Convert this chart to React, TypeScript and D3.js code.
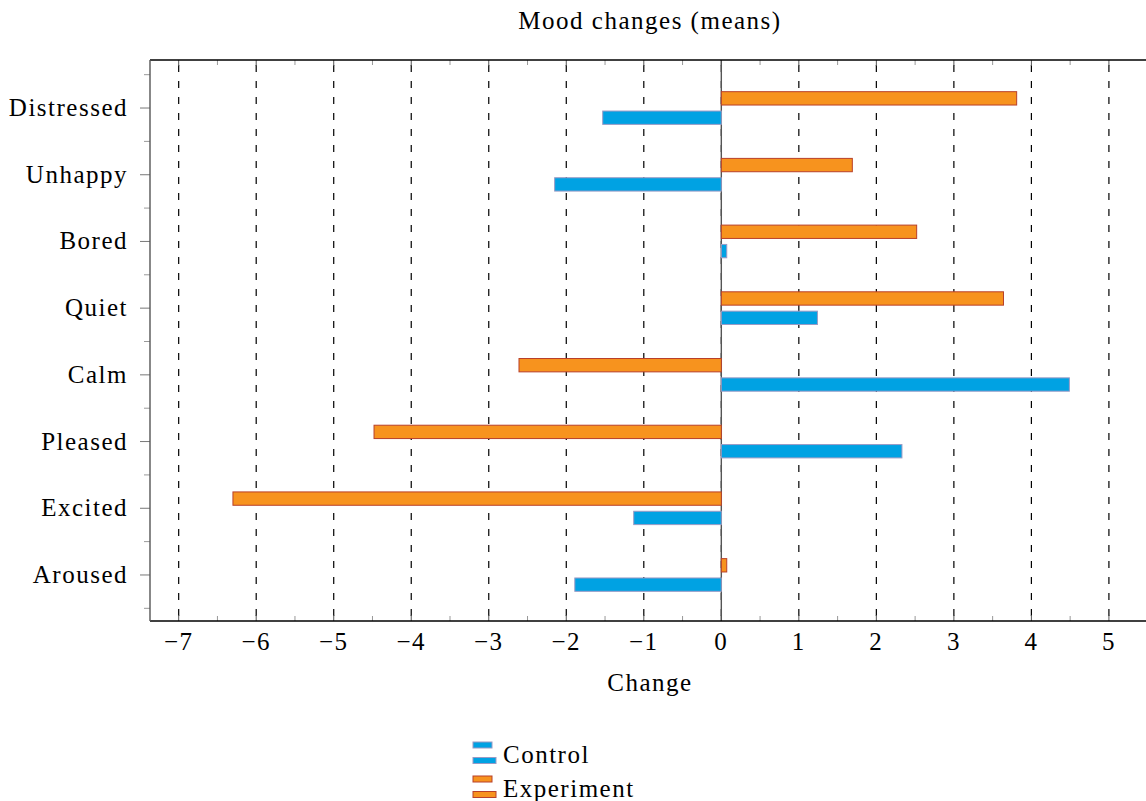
import * as d3 from 'd3';

const W = 1146;
const H = 801;
const MARGIN = { top: 60, right: -4, bottom: 180, left: 150 };
const FONT = '"Liberation Serif", "Times New Roman", serif';
const FS = 25;
const LS = 1.5;

const categories = ['Distressed', 'Unhappy', 'Bored', 'Quiet', 'Calm', 'Pleased', 'Excited', 'Aroused'];
const control = [-1.53, -2.15, 0.07, 1.24, 4.49, 2.33, -1.13, -1.89];
const experiment = [3.81, 1.69, 2.52, 3.64, -2.61, -4.48, -6.3, 0.07];
const xTicks = [-7, -6, -5, -4, -3, -2, -1, 0, 1, 2, 3, 4, 5];
const xDomain = [-7.37, 5.53];
const yDomain = [-0.72, 7.69];

const series = [
  { name: 'Experiment', values: experiment, fill: '#f7931e', stroke: '#b8402a', offset: -1 },
  { name: 'Control', values: control, fill: '#00a2e3', stroke: '#9a9ac4', offset: 1 },
];

const fmt = (v: number) => (v < 0 ? '\u2212' + Math.abs(v) : String(v));

export default function App() {
  const x0 = MARGIN.left;
  const x1 = W - MARGIN.right;
  const y0 = MARGIN.top;
  const y1 = H - MARGIN.bottom;

  const xScale = d3.scaleLinear().domain(xDomain).range([x0, x1]);
  const yScale = d3.scaleLinear().domain(yDomain).range([y0, y1]);
  const step = yScale(1) - yScale(0);
  const barH = step * 0.2;
  const barOff = step * 0.145;

  const minorX = d3.range(xTicks[0] - 0.5, xTicks[xTicks.length - 1] + 1, 1).filter((v) => v > xDomain[0] && v < xDomain[1]);
  const minorY = d3.range(-0.5, categories.length, 1).filter((v) => v > yDomain[0] && v < yDomain[1]);

  const legendX = 473;
  const legendRows = [
    { s: series[1], y: 742 },
    { s: series[0], y: 776 },
  ];

  return (
    <svg width={W} height={H} style={{ position: 'absolute', left: 0, top: 0, fontFamily: FONT }}>
      <rect x={0} y={0} width={W} height={H} fill="#fff" />

      {/* grid */}
      {xTicks.map((t) => (
        <line key={'g' + t} x1={xScale(t)} x2={xScale(t)} y1={y0} y2={y1} stroke="#000" strokeWidth={1.2} strokeDasharray="7 9" strokeDashoffset={-5} />
      ))}
      <line x1={xScale(0)} x2={xScale(0)} y1={y0} y2={y1} stroke="#555" strokeWidth={1.4} />

      {/* bars */}
      {series.map((s) =>
        s.values.map((v, i) => {
          const cy = yScale(i) + s.offset * barOff;
          const xa = xScale(Math.min(0, v));
          const xb = xScale(Math.max(0, v));
          return (
            <rect key={s.name + i} x={xa} y={cy - barH / 2} width={xb - xa} height={barH} fill={s.fill} stroke={s.stroke} strokeWidth={1} />
          );
        })
      )}

      {/* x ticks */}
      {xTicks.map((t) => (
        <g key={'xt' + t}>
          <line x1={xScale(t)} x2={xScale(t)} y1={y1} y2={y1 - 6} stroke="#555" />
          <line x1={xScale(t)} x2={xScale(t)} y1={y0} y2={y0 + 6} stroke="#555" />
          <text x={xScale(t)} y={y1 + 29} textAnchor="middle" fontSize={FS} letterSpacing={LS} fill="#000">
            {fmt(t)}
          </text>
        </g>
      ))}
      {minorX.map((t) => (
        <g key={'mx' + t}>
          <line x1={xScale(t)} x2={xScale(t)} y1={y1} y2={y1 - 5} stroke="#999" />
          <line x1={xScale(t)} x2={xScale(t)} y1={y0} y2={y0 + 5} stroke="#999" />
        </g>
      ))}

      {/* y ticks */}
      {categories.map((c, i) => (
        <g key={c}>
          <line x1={x0 - 10} x2={x0} y1={yScale(i)} y2={yScale(i)} stroke="#777" />
          <text x={x0 - 22} y={yScale(i) + 8} textAnchor="end" fontSize={FS} letterSpacing={LS} fill="#000">
            {c}
          </text>
        </g>
      ))}
      {minorY.map((t) => (
        <line key={'my' + t} x1={x0 - 6} x2={x0} y1={yScale(t)} y2={yScale(t)} stroke="#999" />
      ))}

      {/* axis frame */}
      <line x1={x0} x2={x1} y1={y0} y2={y0} stroke="#000" strokeWidth={1.4} />
      <line x1={x0} x2={x1} y1={y1} y2={y1} stroke="#000" strokeWidth={1.4} />
      <line x1={x0} x2={x0} y1={y0} y2={y1} stroke="#555" strokeWidth={1.4} />

      {/* title & label */}
      <text x={(x0 + x1) / 2} y={29} textAnchor="middle" fontSize={FS} letterSpacing={LS} fill="#000">
        Mood changes (means)
      </text>
      <text x={(x0 + x1) / 2} y={691} textAnchor="middle" fontSize={FS} letterSpacing={LS} fill="#000">
        Change
      </text>

      {/* legend */}
      {legendRows.map(({ s, y }) => (
        <g key={'lg' + s.name}>
          <rect x={legendX} y={y} width={19} height={6} fill={s.fill} stroke={s.stroke} strokeWidth={1} />
          <rect x={legendX} y={y + 15.5} width={23} height={6} fill={s.fill} stroke={s.stroke} strokeWidth={1} />
          <text x={legendX + 30} y={y + 21} fontSize={FS} letterSpacing={LS} fill="#000">
            {s.name}
          </text>
        </g>
      ))}
    </svg>
  );
}
